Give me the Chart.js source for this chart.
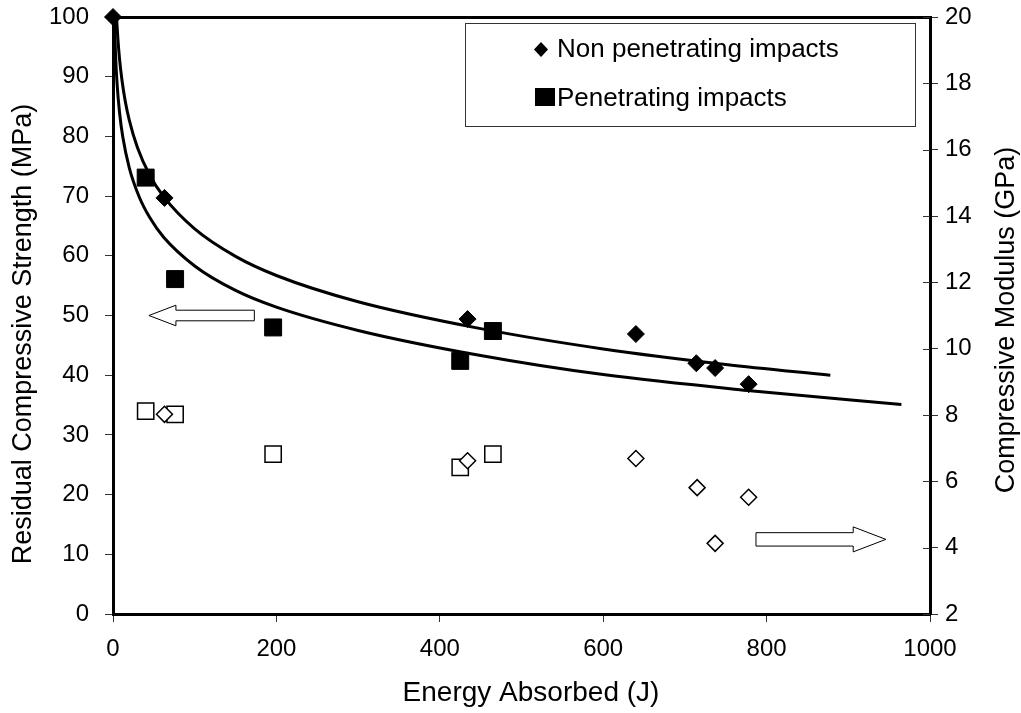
<!DOCTYPE html>
<html>
<head>
<meta charset="utf-8">
<script src="https://cdn.jsdelivr.net/npm/chart.js@4.4.1/dist/chart.umd.min.js"></script>
<style>
  html, body { margin: 0; padding: 0; background: #ffffff; }
  #wrap { width: 1021px; height: 713px; position: relative; }
</style>
</head>
<body>
<div id="wrap"><canvas id="c" width="1021" height="713"></canvas></div>
<script>
// ---- Data ----
// Residual compressive strength (MPa, left axis)
const nonPenEnergy   = [0, 63, 434, 640, 714, 737, 778];
const nonPenStrength = [100, 69.7, 49.4, 46.9, 42.0, 41.2, 38.5];
const penEnergy      = [40, 76, 196, 425, 465];
const penStrength    = [73.1, 56.1, 48.0, 42.4, 47.4];
// Compressive modulus (GPa, right axis)
const nonPenModEnergy = [63, 434, 640, 715, 737, 778];
const nonPenModulus   = [8.02, 6.62, 6.69, 5.81, 4.13, 5.52];
const penModEnergy    = [40, 76, 196, 425, 465];
const penModulus      = [8.12, 8.02, 6.82, 6.42, 6.82];
// Trend curves
const upperCurveX = [4.3, 6, 8, 11, 15, 20, 30, 45, 62, 100, 150, 200, 300, 450, 600, 750, 878];
const upperCurveY = [100, 96.3, 93.0, 89.4, 85.9, 82.7, 78.1, 73.5, 69.9, 64.5, 59.9, 56.7, 52.3, 47.8, 44.4, 41.8, 40.0];
const lowerCurveX = [1.7, 3, 5, 8, 12, 20, 32, 45, 62, 100, 150, 200, 300, 450, 600, 780, 965];
const lowerCurveY = [100, 94.0, 88.8, 84.0, 79.9, 74.7, 69.9, 66.4, 63.1, 58.3, 54.2, 51.4, 47.5, 43.3, 40.1, 37.4, 35.1];
// Axis ticks / labels
const xTicks = [0, 200, 400, 600, 800, 1000];
const yLeftRange = [0, 100];
const yRightRange = [2, 20];
const legendLabels = ['Non penetrating impacts', 'Penetrating impacts'];
const axisTitles = { x: 'Energy Absorbed (J)', yLeft: 'Residual Compressive Strength (MPa)', yRight: 'Compressive Modulus (GPa)' };
// Arrow annotations (data coordinates)
const arrowLeft  = { tip: 44, base: 77, tail: 173, y: 50, axis: 'y' };
const arrowRight = { tip: 946, base: 906, tail: 787, y: 4.25, axis: 'y2' };

function pts(xs, ys) { return xs.map((x, i) => ({ x: x, y: ys[i] })); }

const FONT = '"Liberation Sans", Arial, Helvetica, sans-serif';
const TICK_FS = 24, TITLE_FS = 28, LEGEND_FS = 26;

const arrowsPlugin = {
  id: 'arrows',
  afterDatasetsDraw(chart) {
    const ctx = chart.ctx;
    const xs = chart.scales.x;
    function draw(a, shaftH, headH) {
      const ys = chart.scales[a.axis];
      const py = ys.getPixelForValue(a.y);
      const tip = xs.getPixelForValue(a.tip);
      const base = xs.getPixelForValue(a.base);
      const tail = xs.getPixelForValue(a.tail);
      ctx.save();
      ctx.beginPath();
      ctx.moveTo(tip, py);
      ctx.lineTo(base, py - headH);
      ctx.lineTo(base, py - shaftH);
      ctx.lineTo(tail, py - shaftH);
      ctx.lineTo(tail, py + shaftH);
      ctx.lineTo(base, py + shaftH);
      ctx.lineTo(base, py + headH);
      ctx.closePath();
      ctx.fillStyle = '#ffffff';
      ctx.fill();
      ctx.lineWidth = 1;
      ctx.strokeStyle = '#000000';
      ctx.stroke();
      ctx.restore();
    }
    draw(arrowLeft, 5.3, 10.3);
    draw(arrowRight, 6.7, 12.5);
  }
};

const decorPlugin = {
  id: 'decor',
  afterDraw(chart) {
    const ctx = chart.ctx;
    const ca = chart.chartArea;
    ctx.save();
    // inner tick marks of the right axis (they cross the axis line)
    const y2 = chart.scales.y2;
    ctx.strokeStyle = '#333333';
    ctx.lineWidth = 1;
    y2.ticks.forEach(t => {
      const py = Math.round(y2.getPixelForValue(t.value)) + 0.5;
      ctx.beginPath(); ctx.moveTo(ca.right - 7, py); ctx.lineTo(ca.right, py); ctx.stroke();
    });
    // legend box
    ctx.fillStyle = '#ffffff';
    ctx.fillRect(465, 23, 450, 103);
    ctx.strokeStyle = '#333333';
    ctx.strokeRect(465.5, 23.5, 450, 103);
    ctx.fillStyle = '#000000';
    ctx.beginPath();
    ctx.moveTo(541, 42); ctx.lineTo(548, 49.5); ctx.lineTo(541, 57); ctx.lineTo(534, 49.5);
    ctx.closePath(); ctx.fill();
    ctx.fillRect(535, 88, 20, 18);
    ctx.font = LEGEND_FS + 'px ' + FONT;
    ctx.textBaseline = 'alphabetic';
    ctx.textAlign = 'left';
    ctx.fillText(legendLabels[0], 557, 57);
    ctx.fillText(legendLabels[1], 557, 106);
    // axis titles
    ctx.font = TITLE_FS + 'px ' + FONT;
    ctx.textAlign = 'center';
    ctx.textBaseline = 'middle';
    ctx.fillText(axisTitles.x, 531, 693);
    ctx.font = '27px ' + FONT;
    ctx.save();
    ctx.translate(24, 334);
    ctx.rotate(-Math.PI / 2);
    ctx.fillText(axisTitles.yLeft, 0, 0);
    ctx.restore();
    ctx.save();
    ctx.translate(1007, 320);
    ctx.rotate(-Math.PI / 2);
    ctx.fillText(axisTitles.yRight, 0, 0);
    ctx.restore();
    ctx.restore();
  }
};

const tickGrid = { drawOnChartArea: false, drawTicks: true, tickLength: 8, tickColor: '#333333', tickWidth: 1, color: '#333333' };
const tickFont = { family: FONT, size: TICK_FS };
function noPad(s) { s.paddingTop = 0; s.paddingBottom = 0; s.paddingLeft = 0; s.paddingRight = 0; }

new Chart(document.getElementById('c'), {
  type: 'scatter',
  data: {
    datasets: [
      { label: 'nonPen', data: pts(nonPenEnergy, nonPenStrength), yAxisID: 'y', pointStyle: 'rectRot', pointRadius: 8.5, backgroundColor: '#000', borderColor: '#000', borderWidth: 1, order: 1, clip: false },
      { label: 'pen', data: pts(penEnergy, penStrength), yAxisID: 'y', pointStyle: 'rect', pointRadius: 12, backgroundColor: '#000', borderColor: '#000', borderWidth: 1, order: 1 },
      { label: 'nonPenMod', data: pts(nonPenModEnergy, nonPenModulus), yAxisID: 'y2', pointStyle: 'rectRot', pointRadius: 8, backgroundColor: '#fff', borderColor: '#000', borderWidth: 1.5, order: 2 },
      { label: 'penMod', data: pts(penModEnergy, penModulus), yAxisID: 'y2', pointStyle: 'rect', pointRadius: 11.5, backgroundColor: 'rgba(255,255,255,0)', borderColor: '#000', borderWidth: 1.5, order: 2 },
      { label: 'upper', data: pts(upperCurveX, upperCurveY), yAxisID: 'y', showLine: true, pointRadius: 0, borderColor: '#000', borderWidth: 3, cubicInterpolationMode: 'monotone', order: 3 },
      { label: 'lower', data: pts(lowerCurveX, lowerCurveY), yAxisID: 'y', showLine: true, pointRadius: 0, borderColor: '#000', borderWidth: 3, cubicInterpolationMode: 'monotone', order: 3 }
    ]
  },
  options: {
    responsive: false,
    animation: false,
    layout: { padding: 0 },
    plugins: { legend: { display: false }, tooltip: { enabled: false } },
    scales: {
      x: {
        type: 'linear', position: 'bottom', min: xTicks[0], max: xTicks[xTicks.length - 1],
        afterBuildTicks(s) { s.ticks = xTicks.map(v => ({ value: v })); },
        afterFit(s) { s.height = 99; noPad(s); },
        ticks: { font: tickFont, color: '#000', padding: 13, maxRotation: 0, callback: v => String(v) },
        grid: tickGrid,
        border: { display: true, color: '#000', width: 3 }
      },
      xTop: {
        type: 'linear', position: 'top', min: 0, max: 1000,
        afterFit(s) { s.height = 17; noPad(s); },
        ticks: { display: false },
        grid: { display: false },
        border: { display: true, color: '#000', width: 3 }
      },
      y: {
        type: 'linear', position: 'left', min: yLeftRange[0], max: yLeftRange[1],
        afterFit(s) { s.width = 113; noPad(s); },
        ticks: { stepSize: 10, font: tickFont, color: '#000', padding: 16, callback: v => String(v) },
        grid: tickGrid,
        border: { display: true, color: '#000', width: 3 }
      },
      y2: {
        type: 'linear', position: 'right', min: yRightRange[0], max: yRightRange[1],
        afterFit(s) { s.width = 91; noPad(s); },
        ticks: { stepSize: 2, font: tickFont, color: '#000', padding: 7, callback: v => String(v) },
        grid: tickGrid,
        border: { display: true, color: '#000', width: 3 }
      }
    }
  },
  plugins: [arrowsPlugin, decorPlugin]
});
</script>
</body>
</html>
